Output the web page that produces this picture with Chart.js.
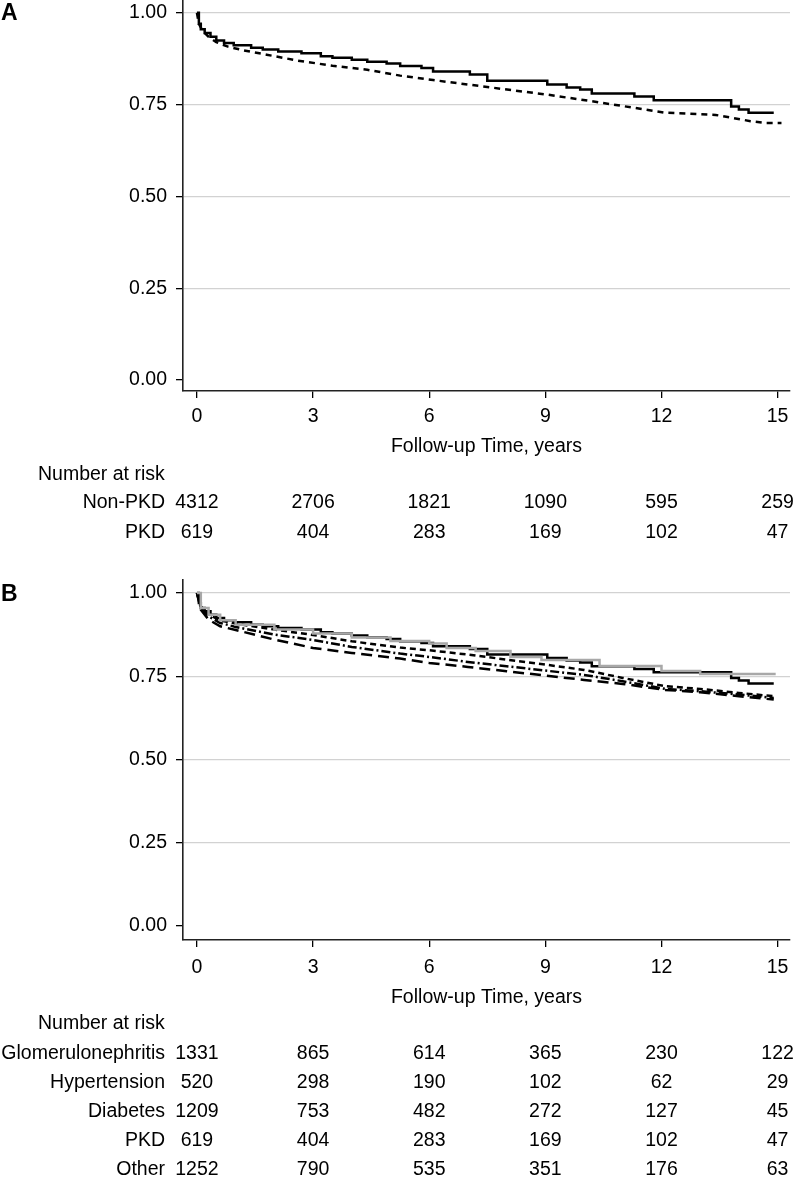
<!DOCTYPE html>
<html lang="en">
<head>
<meta charset="UTF-8">
<script src="https://cdn.jsdelivr.net/npm/chart.js"></script>
<title>Kaplan-Meier curves</title>
<style>
  body { margin: 0; background: #fff; }
  .panel { position: absolute; left: 0; }
</style>
</head>
<body>
<div class="panel" style="top:0"><canvas id="chartA" width="795" height="560"></canvas></div>
<div class="panel" style="top:560px"><canvas id="chartB" width="795" height="620"></canvas></div>
<script>
// axis ticks
const xTicks = [0, 3, 6, 9, 12, 15];
const yTicks = [0, 0.25, 0.5, 0.75, 1];

// survival curves, [time in years, survival]
const pkdCurve = [[0,1],[0.05,0.97],[0.1,0.955],[0.2,0.945],[0.35,0.935],[0.5,0.925],[0.7,0.918],[0.95,0.912],[1.4,0.905],[1.7,0.9],[2.1,0.895],[2.7,0.89],[3.2,0.882],[3.5,0.878],[4.0,0.872],[4.4,0.867],[4.9,0.862],[5.25,0.855],[5.8,0.85],[6.1,0.84],[7.05,0.832],[7.5,0.815],[9.05,0.805],[9.55,0.797],[9.9,0.791],[10.2,0.78],[11.3,0.772],[11.8,0.762],[13.8,0.745],[14.0,0.737],[14.25,0.728],[14.9,0.728]];
const nonPkdCurve = [[0,1],[0.05,0.97],[0.15,0.95],[0.3,0.935],[0.5,0.92],[0.8,0.908],[1.2,0.898],[1.8,0.886],[2.6,0.87],[3.5,0.856],[4.4,0.845],[5.25,0.829],[6.1,0.817],[7.5,0.798],[9.0,0.778],[10.4,0.756],[11.5,0.738],[12.1,0.728],[13.4,0.722],[14.3,0.705],[14.7,0.7],[15.1,0.7]];
const glomCurve = [[0,1],[0.1,0.955],[0.3,0.935],[0.6,0.918],[1,0.905],[2,0.89],[3,0.878],[4,0.866],[5,0.856],[6,0.848],[6.45,0.835],[7.2,0.826],[8.1,0.808],[8.9,0.799],[10.4,0.781],[12,0.766],[13,0.757],[14.95,0.757]];
const hypCurve = [[0,1],[0.1,0.96],[0.3,0.935],[0.6,0.918],[1,0.908],[2,0.89],[3,0.874],[4,0.855],[5.25,0.836],[6,0.828],[7,0.815],[8,0.8],[9,0.785],[10,0.769],[11,0.745],[12.1,0.72],[13,0.712],[14,0.7],[14.9,0.69]];
const diabCurve = [[0,1],[0.1,0.955],[0.3,0.93],[0.6,0.91],[1,0.898],[2,0.875],[3,0.859],[4,0.838],[5.25,0.818],[6,0.808],[7,0.793],[8,0.78],[9,0.767],[10,0.754],[11,0.735],[12.1,0.712],[13,0.705],[14,0.695],[14.9,0.685]];
const otherCurve = [[0,1],[0.1,0.95],[0.3,0.92],[0.6,0.9],[1,0.889],[2,0.86],[3,0.835],[4,0.82],[5.25,0.803],[6,0.79],[7,0.778],[8,0.765],[9,0.752],[10,0.739],[11,0.727],[12.1,0.709],[13,0.702],[14,0.69],[14.9,0.68]];

// number at risk
const riskNonPkd = [4312, 2706, 1821, 1090, 595, 259];
const riskPkd = [619, 404, 283, 169, 102, 47];
const riskGlom = [1331, 865, 614, 365, 230, 122];
const riskHyp = [520, 298, 190, 102, 62, 29];
const riskDiab = [1209, 753, 482, 272, 127, 45];
const riskOther = [1252, 790, 535, 351, 176, 63];

const FONT = '"Liberation Sans", Arial, Helvetica, sans-serif';
const FS = 19.5;
Chart.defaults.font.family = FONT;
Chart.defaults.font.size = FS;
Chart.defaults.color = '#000';

function pts(c) { return c.map(p => ({x: p[0], y: p[1]})); }

function line(curve, color, dash, stepped) {
  return {
    data: pts(curve),
    borderColor: color,
    borderWidth: 2.5,
    borderDash: dash,
    stepped: stepped ? 'before' : false,
    pointRadius: 0,
    fill: false,
    tension: 0
  };
}

// draws panel letter and the number-at-risk table under the x axis
function riskPlugin(letter, letterY, headY, rows) {
  return {
    id: 'risk' + letter,
    afterDraw(chart) {
      const ctx = chart.ctx;
      const xs = chart.scales.x;
      ctx.save();
      ctx.fillStyle = '#000';
      ctx.textBaseline = 'middle';
      ctx.font = 'bold 23px ' + FONT;
      ctx.textAlign = 'left';
      ctx.fillText(letter, 1, letterY);
      ctx.font = FS + 'px ' + FONT;
      ctx.fillText('Number at risk', 38, headY);
      rows.forEach(r => {
        ctx.textAlign = 'right';
        ctx.fillText(r.label, 165, r.y);
        ctx.textAlign = 'center';
        r.values.forEach((v, i) => ctx.fillText(String(v), xs.getPixelForValue(xTicks[i]), r.y));
      });
      ctx.restore();
    }
  };
}

function makeOptions(yMin, yMax, padTop, padBottom, xHeight, xPad) {
  return {
    responsive: false,
    animation: false,
    layout: { padding: { top: padTop, right: 5, bottom: padBottom, left: 0 } },
    plugins: { legend: { display: false }, tooltip: { enabled: false } },
    scales: {
      x: {
        type: 'linear', min: -0.36, max: 15.32,
        afterBuildTicks: s => { s.ticks = xTicks.map(v => ({value: v})); },
        afterFit: s => { s.height = xHeight; s.paddingLeft = 0; s.paddingRight = 0; },
        grid: { drawOnChartArea: false, drawTicks: true, tickLength: 7, color: '#000', lineWidth: 1.3 },
        border: { display: true, color: '#222', width: 1.6 },
        ticks: { padding: xPad, color: '#000', maxRotation: 0 },
        title: { display: true, text: 'Follow-up Time, years', padding: 0, color: '#000', font: { size: FS } }
      },
      y: {
        type: 'linear', min: yMin, max: yMax,
        afterBuildTicks: s => { s.ticks = yTicks.map(v => ({value: v})); },
        afterFit: s => { s.width = 183; s.paddingTop = 0; s.paddingBottom = 0; },
        grid: {
          color: c => (c.tick && c.tick.value === 0) ? 'rgba(0,0,0,0)' : '#d2d2d2',
          tickColor: '#000', lineWidth: 1.3, tickLength: 7
        },
        border: { display: true, color: '#222', width: 1.6 },
        ticks: { padding: 9, color: '#000', callback: v => v.toFixed(2) }
      }
    }
  };
}

new Chart(document.getElementById('chartA'), {
  type: 'line',
  data: {
    datasets: [
      line(pkdCurve, '#000', [], true),
      line(nonPkdCurve, '#000', [6, 5], false)
    ]
  },
  options: makeOptions(-0.03, 1.035, 0, 102, 67, 7),
  plugins: [riskPlugin('A', 14, 475, [
    { label: 'Non-PKD', values: riskNonPkd, y: 503 },
    { label: 'PKD', values: riskPkd, y: 533 }
  ])]
});

new Chart(document.getElementById('chartB'), {
  type: 'line',
  data: {
    datasets: [
      line(glomCurve, '#a8a8a8', [], true),
      line(hypCurve, '#000', [6, 4], false),
      line(diabCurve, '#000', [9, 3, 2, 3], false),
      line(otherCurve, '#000', [11, 6], false),
      line(pkdCurve, '#000', [], true)
    ]
  },
  options: makeOptions(-0.042, 1.039, 20, 171, 69, 9),
  plugins: [riskPlugin('B', 35, 464, [
    { label: 'Glomerulonephritis', values: riskGlom, y: 494 },
    { label: 'Hypertension', values: riskHyp, y: 523 },
    { label: 'Diabetes', values: riskDiab, y: 552 },
    { label: 'PKD', values: riskPkd, y: 581 },
    { label: 'Other', values: riskOther, y: 610 }
  ])]
});
</script>
</body>
</html>
